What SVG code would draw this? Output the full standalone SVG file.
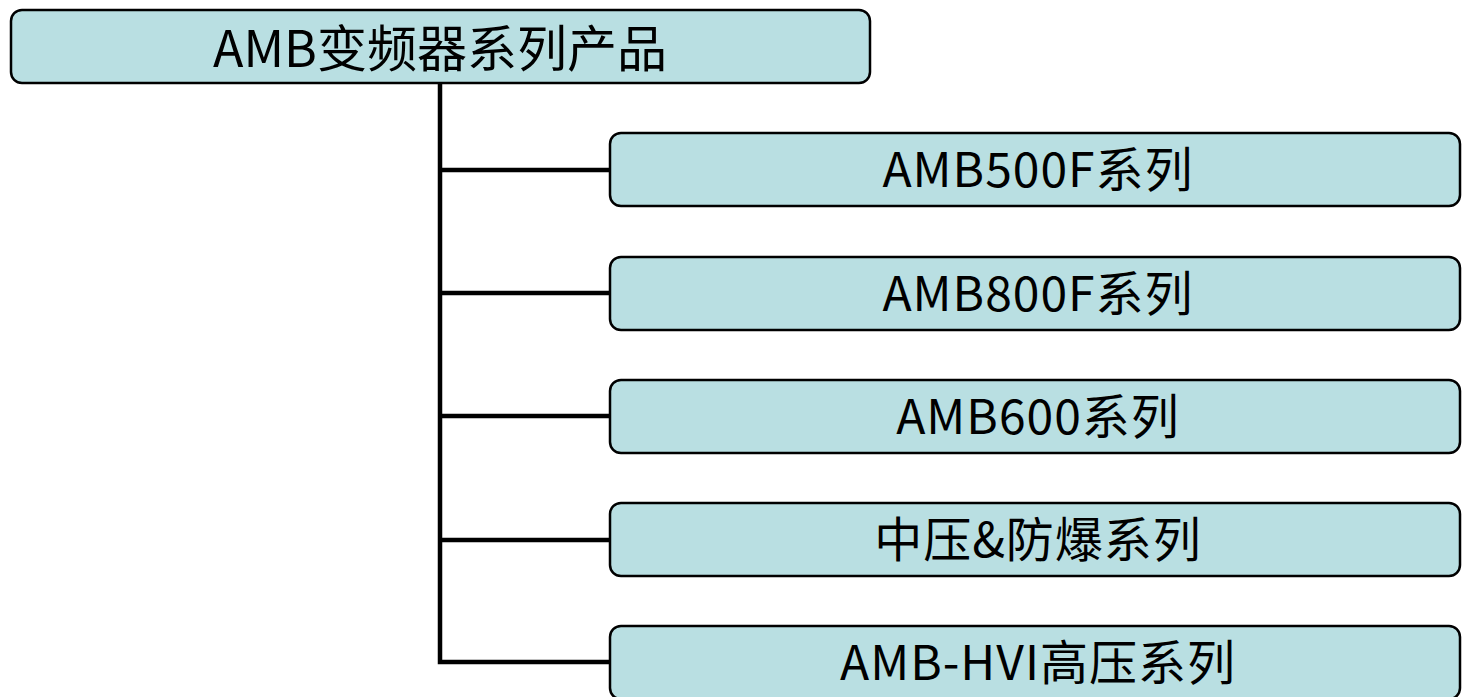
<svg xmlns="http://www.w3.org/2000/svg" width="1462" height="697" viewBox="0 0 1462 697">
<style>
.box{fill:#b9dfe2;stroke:#000;stroke-width:2.5}
.t{font-family:"Noto Sans CJK SC","Noto Sans",sans-serif;fill:#000;text-anchor:middle}
.t1{font-size:50px}
.t2{font-size:48px;letter-spacing:1px}
.c{fill:none;stroke:#000;stroke-width:4.5}
</style>
<rect width="1462" height="697" fill="#fff"/>
<g id="connectors">
<path class="c" d="M440,83 V662 H611"/>
<path class="c" d="M440,170 H611"/>
<path class="c" d="M440,293 H611"/>
<path class="c" d="M440,416 H611"/>
<path class="c" d="M440,540 H611"/>
</g>
<g id="root">
<rect class="box" x="11" y="10" width="859" height="73" rx="11"/>
<text class="t t1" x="440" y="67">AMB变频器系列产品</text>
</g>
<g id="n1">
<rect class="box" x="610" y="133" width="850" height="73" rx="11"/>
<text class="t t2" x="1038" y="187">AMB500F系列</text>
</g>
<g id="n2">
<rect class="box" x="610" y="257" width="850" height="73" rx="11"/>
<text class="t t2" x="1038" y="311">AMB800F系列</text>
</g>
<g id="n3">
<rect class="box" x="610" y="380" width="850" height="73" rx="11"/>
<text class="t t2" x="1038" y="434">AMB600系列</text>
</g>
<g id="n4">
<rect class="box" x="610" y="503" width="850" height="73" rx="11"/>
<text class="t t2" x="1038" y="557">中压&amp;防爆系列</text>
</g>
<g id="n5">
<rect class="box" x="610" y="626" width="850" height="73" rx="11"/>
<text class="t t2" x="1038" y="680">AMB-HVI高压系列</text>
</g>
</svg>
